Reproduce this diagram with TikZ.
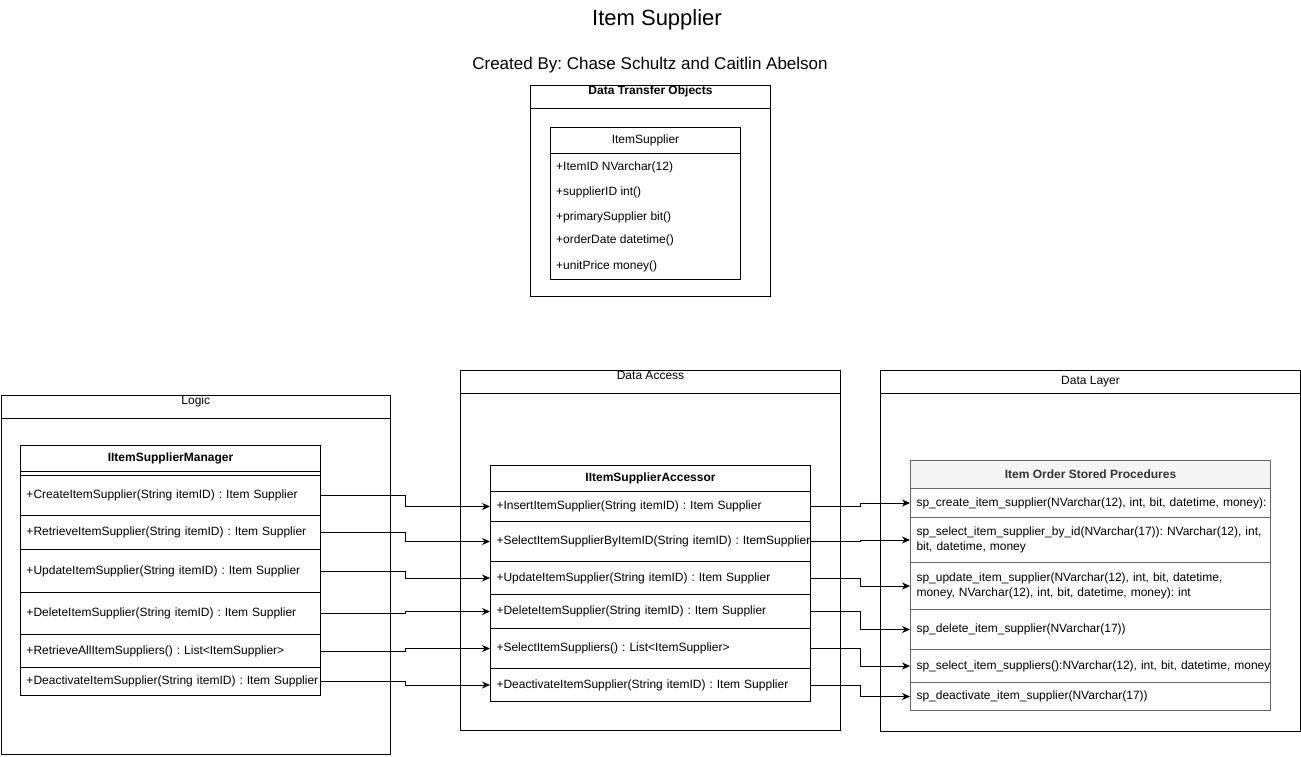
\documentclass[tikz,border=0pt]{standalone}
\usepackage{fontspec}
\setmainfont{Liberation Sans}
\usetikzlibrary{arrows.meta}
\definecolor{procline}{HTML}{666666}
\definecolor{procfill}{HTML}{F5F5F5}
\definecolor{proctext}{HTML}{333333}
\frenchspacing

\begin{document}
\begin{tikzpicture}
[x=1pt, y=-1pt,
 every node/.style={inner sep=0pt, font=\fontsize{12}{14.5}\selectfont},
 box/.style={rectangle, draw, line width=1pt, anchor=north west},
 row/.style={box, align=left, inner xsep=6pt},
 bold/.style={font=\fontsize{12}{14.5}\selectfont\bfseries},
 proc/.style={row, draw=procline},
 flow/.style={line width=1pt, -{Stealth[length=8pt, width=7pt]}}]
\useasboundingbox (0,0) rectangle (1301,756);

% headings
\node (title) at (657,20) {\fontsize{22}{26}\selectfont Item Supplier};
\node (author) at (650,65) {\fontsize{17}{20}\selectfont Created By: Chase Schultz and Caitlin Abelson};

% data transfer objects
\node (dtohead) [box, minimum width=240pt, minimum height=23pt, label={[anchor=north, inner sep=1pt, bold]north:Data Transfer Objects}] at (530,85) {};
\node (dtobody) [box, minimum width=240pt, minimum height=188pt] at (530,108) {};
\node (ishead) [box, minimum width=190pt, minimum height=26pt] at (550,127) {ItemSupplier};
\node (isbody) [box, minimum width=190pt, minimum height=126pt] at (550,153) {};
\node (f1) [anchor=west] at (556,167) {+ItemID NVarchar(12)};
\node (f2) [anchor=west] at (556,192) {+supplierID int()};
\node (f3) [anchor=west] at (556,217) {+primarySupplier bit()};
\node (f4) [anchor=west] at (556,240) {+orderDate datetime()};
\node (f5) [anchor=west] at (556,266) {+unitPrice money()};

% logic
\node (logichead) [box, minimum width=389.5pt, minimum height=23pt, label={[anchor=north, inner sep=1pt]north:Logic}] at (0.5,395) {};
\node (logicbody) [box, minimum width=389.5pt, minimum height=336pt] at (0.5,418) {};
\node (mgrhead) [box, bold, minimum width=300pt, minimum height=26pt] at (20,445) {IItemSupplierManager};
\node (mgrgap) [box, minimum width=300pt, minimum height=4pt] at (20,471) {};
\node (m1) [row, text width=288pt, minimum height=40pt] at (20,475) {+CreateItemSupplier(String itemID) : Item Supplier};
\node (m2) [row, text width=288pt, minimum height=34pt] at (20,515) {+RetrieveItemSupplier(String itemID) : Item Supplier};
\node (m3) [row, text width=288pt, minimum height=43pt] at (20,549) {+UpdateItemSupplier(String itemID) : Item Supplier};
\node (m4) [row, text width=288pt, minimum height=42pt] at (20,592) {+DeleteItemSupplier(String itemID) : Item Supplier};
\node (m5) [row, text width=288pt, minimum height=33pt] at (20,634) {+RetrieveAllItemSuppliers() : List<ItemSupplier>};
\node (m6) [row, text width=288pt, minimum height=28pt] at (20,667) {\mbox{+DeactivateItemSupplier(String itemID) : Item Supplier}};

% data access
\node (dahead) [box, minimum width=380pt, minimum height=23pt, label={[anchor=north, inner sep=1pt]north:Data Access}] at (460,370) {};
\node (dabody) [box, minimum width=380pt, minimum height=337pt] at (460,393) {};
\node (acchead) [box, bold, minimum width=320pt, minimum height=26pt] at (490,465) {IItemSupplierAccessor};
\node (a1) [row, text width=308pt, minimum height=30pt] at (490,491) {+InsertItemSupplier(String itemID) : Item Supplier};
\node (a2) [row, text width=308pt, minimum height=40pt] at (490,521) {\mbox{+SelectItemSupplierByItemID(String itemID) : ItemSupplier}};
\node (a3) [row, text width=308pt, minimum height=33pt] at (490,561) {+UpdateItemSupplier(String itemID) : Item Supplier};
\node (a4) [row, text width=308pt, minimum height=34pt] at (490,594) {+DeleteItemSupplier(String itemID) : Item Supplier};
\node (a5) [row, text width=308pt, minimum height=40pt] at (490,628) {+SelectItemSuppliers() : List<ItemSupplier>};
\node (a6) [row, text width=308pt, minimum height=33pt] at (490,668) {+DeactivateItemSupplier(String itemID) : Item Supplier};

% data layer
\node (dlhead) [box, minimum width=420pt, minimum height=23pt] at (880,370) {Data Layer};
\node (dlbody) [box, minimum width=420pt, minimum height=338pt] at (880,393) {};
\node (sphead) [box, bold, draw=procline, fill=procfill, text=proctext, minimum width=360pt, minimum height=28pt] at (910,460) {Item Order Stored Procedures};
\node (s1) [proc, text width=348pt, minimum height=29pt] at (910,488) {\mbox{sp\_create\_item\_supplier(NVarchar(12), int, bit, datetime, money):}};
\node (s2) [proc, text width=348pt, minimum height=45pt] at (910,517) {\mbox{sp\_select\_item\_supplier\_by\_id(NVarchar(17)): NVarchar(12), int,}\\bit, datetime, money};
\node (s3) [proc, text width=348pt, minimum height=47pt] at (910,562) {\mbox{sp\_update\_item\_supplier(NVarchar(12), int, bit, datetime,}\\\mbox{money, NVarchar(12), int, bit, datetime, money): int}};
\node (s4) [proc, text width=348pt, minimum height=40pt] at (910,609) {sp\_delete\_item\_supplier(NVarchar(17))};
\node (s5) [proc, text width=348pt, minimum height=33pt] at (910,649) {\mbox{sp\_select\_item\_suppliers():NVarchar(12), int, bit, datetime, money}};
\node (s6) [proc, text width=348pt, minimum height=28pt] at (910,682) {sp\_deactivate\_item\_supplier(NVarchar(17))};

% connectors
\coordinate (bendL) at (405,0);
\coordinate (bendR) at (860,0);
\foreach \i in {1,...,6} {
  \draw [flow] (m\i.east) -- (m\i.east -| bendL) |- (a\i.west);
  \draw [flow] (a\i.east) -- (a\i.east -| bendR) |- (s\i.west);
}
\end{tikzpicture}
\end{document}
